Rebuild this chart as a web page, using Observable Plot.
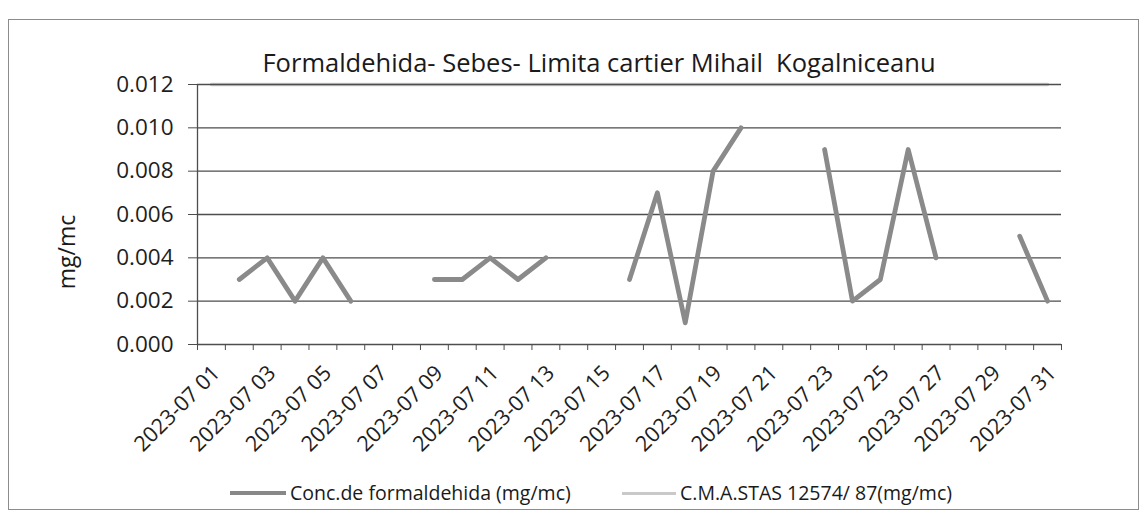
<!DOCTYPE html>
<html>
<head>
<meta charset="utf-8">
<script src="https://cdn.jsdelivr.net/npm/d3@7"></script>
<script src="https://cdn.jsdelivr.net/npm/@observablehq/plot@0.6"></script>
<style>
  body { margin: 0; background: #fff; font-family: "Open Sans", sans-serif; color: #1e1e1e; }
  #wrap { position: relative; width: 1144px; height: 520px; overflow: hidden; background: #fff; }
  #frame { position: absolute; left: 8px; top: 19px; width: 1131px; height: 491px; border: 1.5px solid #8c8c8c; box-sizing: border-box; }
  #chart { position: absolute; left: 0; top: 0; }
  #title { position: absolute; left: 0; width: 1198px; top: 47px; text-align: center; font-size: 25.5px; line-height: 30px; white-space: pre; color: #1a1a1a; }
  #ylab { position: absolute; left: 66px; top: 252px; transform: translate(-50%, -50%) rotate(-90deg); font-size: 23px; white-space: nowrap; color: #1a1a1a; }
  .leg { position: absolute; top: 481px; font-size: 19.5px; line-height: 24px; white-space: pre; color: #1a1a1a; display: flex; align-items: center; }
  .sw { display: inline-block; margin-right: 4px; }
</style>
</head>
<body>
<div id="wrap">
  <div id="frame"></div>
  <div id="chart"></div>
  <div id="title"></div>
  <div id="ylab">mg/mc</div>
  <div class="leg" id="leg1" style="left:230px"><span class="sw" style="width:56px;height:4px;background:#888"></span><span id="l1"></span></div>
  <div class="leg" id="leg2" style="left:622px"><span class="sw" style="width:54px;height:3px;background:#c9c9c9"></span><span id="l2"></span></div>
</div>
<script>
// ---- data ----
const titleText = "Formaldehida- Sebes- Limita cartier Mihail  Kogalniceanu";
const seriesNames = ["Conc.de formaldehida (mg/mc)", "C.M.A.STAS 12574/ 87(mg/mc)"];
const dates = [
  "2023-07-01","2023-07-02","2023-07-03","2023-07-04","2023-07-05","2023-07-06","2023-07-07","2023-07-08",
  "2023-07-09","2023-07-10","2023-07-11","2023-07-12","2023-07-13","2023-07-14","2023-07-15","2023-07-16",
  "2023-07-17","2023-07-18","2023-07-19","2023-07-20","2023-07-21","2023-07-22","2023-07-23","2023-07-24",
  "2023-07-25","2023-07-26","2023-07-27","2023-07-28","2023-07-29","2023-07-30","2023-07-31"
];
const conc = [
  null, 0.003, 0.004, 0.002, 0.004, 0.002, null, null,
  0.003, 0.003, 0.004, 0.003, 0.004, null, null, 0.003,
  0.007, 0.001, 0.008, 0.010, null, null, 0.009, 0.002,
  0.003, 0.009, 0.004, null, null, 0.005, 0.002
];
const cma = [
  0.012, 0.012, 0.012, 0.012, 0.012, 0.012, 0.012, 0.012,
  0.012, 0.012, 0.012, 0.012, 0.012, 0.012, 0.012, 0.012,
  0.012, 0.012, 0.012, 0.012, 0.012, 0.012, 0.012, 0.012,
  0.012, 0.012, 0.012, 0.012, 0.012, 0.012, 0.012
];
const yTicks = [0, 0.002, 0.004, 0.006, 0.008, 0.010, 0.012];
const xTickLabels = [
  "2023-07 01","2023-07 03","2023-07 05","2023-07 07","2023-07 09","2023-07 11","2023-07 13","2023-07 15",
  "2023-07 17","2023-07 19","2023-07 21","2023-07 23","2023-07 25","2023-07 27","2023-07 29","2023-07 31"
];

// ---- derived tables ----
const dayOf = s => +s.slice(-2);
const concRows = dates.map((d, i) => ({day: dayOf(d), v: conc[i]}));
const cmaRows = dates.map((d, i) => ({day: dayOf(d), v: cma[i]}));
const boundaries = [dayOf(dates[0]) - 0.5, ...dates.map(d => dayOf(d) + 0.5)];

document.getElementById("title").textContent = titleText;
document.getElementById("l1").textContent = seriesNames[0];
document.getElementById("l2").textContent = seriesNames[1];

const chart = Plot.plot({
  width: 1144,
  height: 520,
  marginLeft: 197,
  marginRight: 83,
  marginTop: 84,
  marginBottom: 176,
  style: {fontFamily: "Open Sans, sans-serif", color: "#1e1e1e", background: "transparent"},
  x: {type: "linear", domain: [boundaries[0], boundaries[boundaries.length - 1]]},
  y: {domain: [0, 0.012]},
  marks: [
    Plot.line(cmaRows, {x: "day", y: "v", stroke: "#cfcfcf", strokeWidth: 3.5}),
    Plot.ruleY(yTicks, {stroke: "#4d4d4d", strokeWidth: 1.3}),
    Plot.axisY({ticks: yTicks, tickFormat: d3.format(".3f"), tickSize: 9, tickPadding: 15, fontSize: 22.5, label: null, stroke: "#4d4d4d"}),
    Plot.axisX({ticks: boundaries, tickFormat: () => "", tickSize: 6, label: null, stroke: "#4d4d4d"}),
    Plot.ruleX([boundaries[0]], {y1: 0, y2: 0.012, stroke: "#4d4d4d", strokeWidth: 1.3}),
    Plot.line(concRows, {x: "day", y: "v", stroke: "#8a8a8a", strokeWidth: 4.8, strokeLinejoin: "round", strokeLinecap: "round"}),
    Plot.text(xTickLabels, {
      x: d => dayOf(d), y: () => 0, text: d => d,
      rotate: -45, textAnchor: "end", lineAnchor: "middle",
      dx: 5, dy: 25, fontSize: 21.5, fill: "#1e1e1e"
    })
  ]
});
document.getElementById("chart").appendChild(chart);
</script>
</body>
</html>
